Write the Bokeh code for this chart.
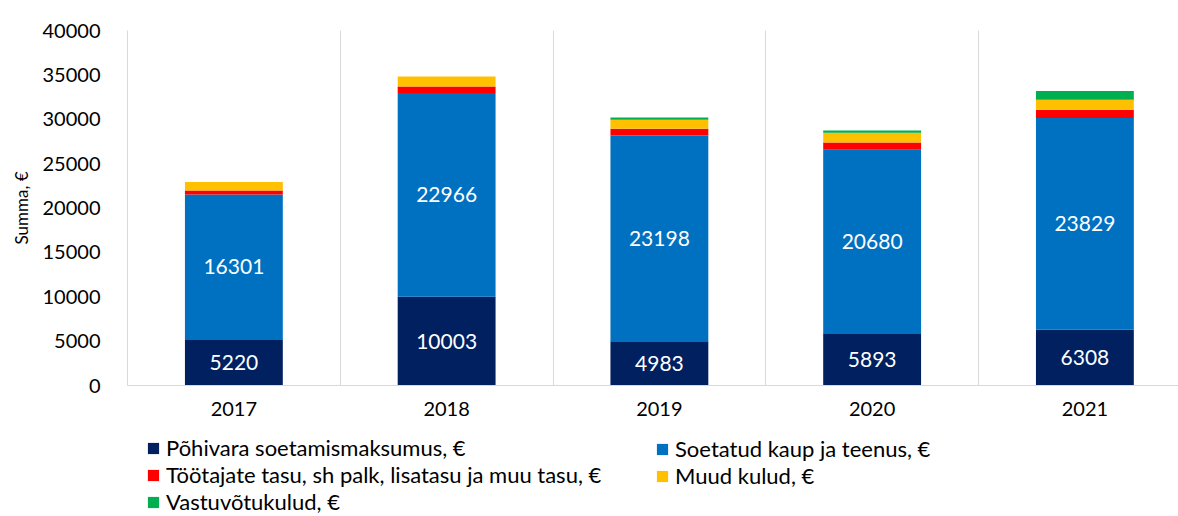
from bokeh.plotting import figure
from bokeh.layouts import column
from bokeh.models import FixedTicker, Legend, LegendItem, ColumnDataSource, Range1d
from bokeh.core.properties import value
from bokeh.embed import file_html
from bokeh.resources import INLINE

years = ["2017", "2018", "2019", "2020", "2021"]
pohivara = [5220, 10003, 4983, 5893, 6308]
kaup = [16301, 22966, 23198, 20680, 23829]
tootajate = [450, 710, 750, 820, 940]
muud = [950, 1130, 1015, 1090, 1130]
vastuvotu = [0, 0, 260, 260, 975]

series_names = ["Põhivara soetamismaksumus, €", "Soetatud kaup ja teenus, €",
                "Töötajate tasu, sh palk, lisatasu ja muu tasu, €", "Muud kulud, €",
                "Vastuvõtukulud, €"]
colors = ["#002060", "#0070C0", "#FF0000", "#FFC000", "#00B050"]
series = [pohivara, kaup, tootajate, muud, vastuvotu]

FONT = "Lato"

p = figure(width=1178, height=420, output_backend="svg", toolbar_location=None,
           x_range=(-0.5, 4.44), y_range=(0, 40000),
           min_border_left=127, min_border_right=0, min_border_top=30, min_border_bottom=35)
p.outline_line_color = None
p.background_fill_color = "white"

xs = list(range(len(years)))
bottoms = [0] * len(years)
for name, vals, col in zip(series_names, series, colors):
    tops = [b + v for b, v in zip(bottoms, vals)]
    src = ColumnDataSource(dict(x=xs, bottom=bottoms, top=tops))
    p.vbar(x="x", bottom="bottom", top="top", width=0.46, source=src,
           fill_color=col, line_color=None)
    bottoms = tops

# data labels for first two series
lab_x, lab_y, lab_t = [], [], []
for i in xs:
    lab_x.append(i); lab_y.append(pohivara[i] / 2); lab_t.append(str(pohivara[i]))
    lab_x.append(i); lab_y.append(pohivara[i] + kaup[i] / 2); lab_t.append(str(kaup[i]))
p.text(x=lab_x, y=lab_y, text=lab_t, text_color="white", text_font=value(FONT),
       text_font_size="21px", text_align="center", text_baseline="middle")

# axes
p.xaxis.ticker = FixedTicker(ticks=xs)
p.xaxis.major_label_overrides = {i: y for i, y in zip(xs, years)}
p.xaxis.major_tick_line_color = None
p.xaxis.minor_tick_line_color = None
p.xaxis.axis_line_color = "#d9d9d9"
p.xaxis.major_label_text_font = FONT
p.xaxis.major_label_text_font_size = "20px"
p.xaxis.major_label_text_color = "black"
p.xaxis.major_label_standoff = 10

p.yaxis.ticker = FixedTicker(ticks=list(range(0, 40001, 5000)))
p.yaxis.major_tick_line_color = None
p.yaxis.minor_tick_line_color = None
p.yaxis.axis_line_color = "#d9d9d9"
p.yaxis.major_label_text_font = FONT
p.yaxis.major_label_text_font_size = "20px"
p.yaxis.major_label_text_color = "black"
p.yaxis.major_label_standoff = 21
p.yaxis.axis_label = "Summa, €"
p.yaxis.axis_label_text_font = FONT
p.yaxis.axis_label_text_font_size = "17px"
p.yaxis.axis_label_text_font_style = "normal"
p.yaxis.axis_label_text_color = "black"
p.yaxis.axis_label_standoff = 8

p.ygrid.grid_line_color = None
p.xgrid.ticker = FixedTicker(ticks=[0.5, 1.5, 2.5, 3.5])
p.xgrid.grid_line_color = "#d9d9d9"

# legend figure
lf = figure(width=1178, height=96, output_backend="svg", toolbar_location=None,
            x_range=Range1d(0, 1), y_range=Range1d(0, 1),
            min_border_left=0, min_border_right=0, min_border_top=0, min_border_bottom=0)
lf.axis.visible = False
lf.grid.visible = False
lf.outline_line_color = None
dummy = []
for col in colors:
    dummy.append(lf.vbar(x=[-10], top=[-10], bottom=[-20], width=0.1,
                         fill_color=col, line_color=None))

def make_legend(idx, loc):
    items = [LegendItem(label=series_names[j], renderers=[dummy[j]]) for j in idx]
    return Legend(items=items, orientation="vertical", location=loc,
                  label_text_font=FONT, label_text_font_size="22px",
                  label_text_color="black",
                  glyph_width=14, glyph_height=14, label_standoff=6,
                  spacing=0, padding=0, margin=0, label_height=21,
                  border_line_color=None, background_fill_alpha=0)

lf.add_layout(make_legend([0, 2, 4], (19, 1)), "center")
lf.add_layout(make_legend([1, 3], (528, 27)), "center")

open("out.html", "w").write(file_html(column(p, lf, spacing=0), INLINE))
